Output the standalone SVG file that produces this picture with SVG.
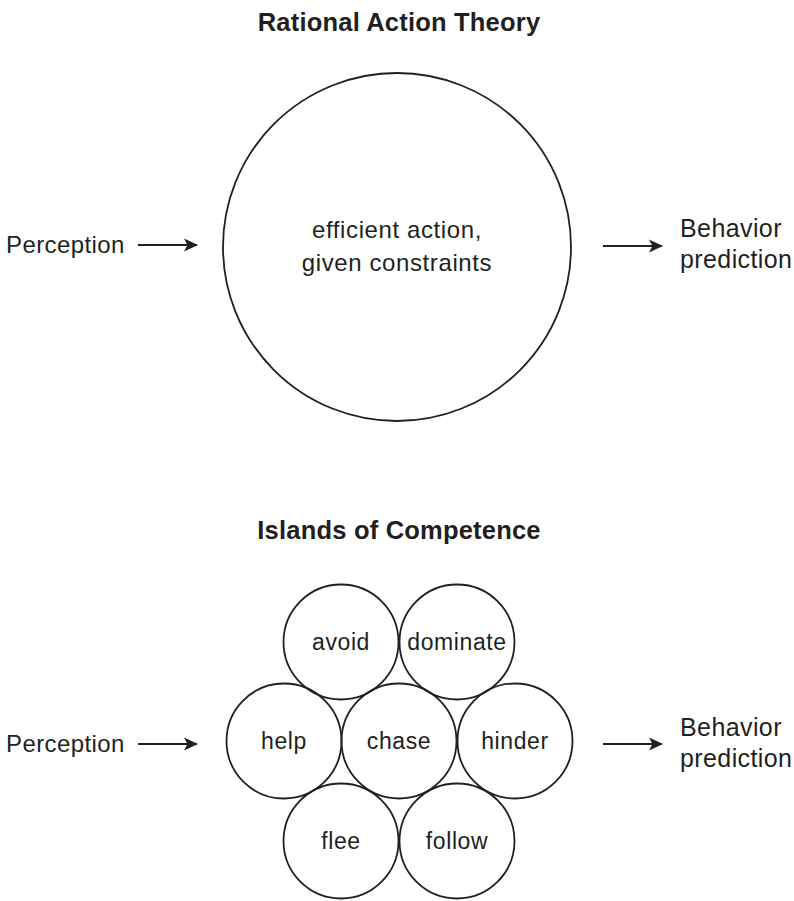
<svg xmlns="http://www.w3.org/2000/svg" width="794" height="901" viewBox="0 0 794 901">
  <style>
    .bg { fill: #ffffff; }
    .ring { fill: none; stroke: #231f20; stroke-width: 1.8; }
    .txt { font-family: "Liberation Sans", Arial, sans-serif; font-size: 24px; fill: #231f20; letter-spacing: 0.4px; }
    .side { font-size: 25px; letter-spacing: 0.4px; }
    .core { font-size: 24px; letter-spacing: 0.6px; }
    .lbl { font-size: 23px; letter-spacing: 0.6px; }
    .mid { text-anchor: middle; }
    .title { font-family: "Liberation Sans", Arial, sans-serif; font-size: 25.5px; font-weight: bold; fill: #231f20; text-anchor: middle; letter-spacing: 0.2px; }
    .link { stroke: #231f20; stroke-width: 1.8; fill: none; marker-end: url(#head); }
  </style>
  <defs>
    <marker id="head" viewBox="0 0 14 14" refX="13" refY="7" markerWidth="14" markerHeight="14" markerUnits="userSpaceOnUse" orient="auto">
      <path d="M0,0.5 L14,7 L0,13.5 L3.5,7 Z" fill="#231f20"/>
    </marker>
  </defs>
  <rect class="bg" x="0" y="0" width="794" height="901"/>

  <!-- Upper panel: single rational-action model -->
  <text class="title" x="399" y="31">Rational Action Theory</text>

  <g id="perception-top">
    <text class="txt" x="6" y="253">Perception</text>
  </g>
  <g id="rational-action">
    <circle class="ring" cx="397" cy="247" r="174"/>
    <text class="txt core mid" x="397" y="238">efficient action,</text>
    <text class="txt core mid" x="397" y="271">given constraints</text>
  </g>
  <g id="behavior-top">
    <text class="txt side" x="680" y="237">Behavior</text>
    <text class="txt side" x="680" y="268">prediction</text>
  </g>

  <!-- Lower panel: cluster of specialised competences -->
  <text class="title" x="399" y="539">Islands of Competence</text>

  <g id="perception-bottom">
    <text class="txt" x="6" y="752">Perception</text>
  </g>
  <g id="avoid">
    <circle class="ring" cx="341" cy="642" r="57.5"/>
    <text class="txt lbl mid" x="341" y="650">avoid</text>
  </g>
  <g id="dominate">
    <circle class="ring" cx="457" cy="642" r="57.5"/>
    <text class="txt lbl mid" x="457" y="650">dominate</text>
  </g>
  <g id="help">
    <circle class="ring" cx="284" cy="741" r="57.5"/>
    <text class="txt lbl mid" x="284" y="749">help</text>
  </g>
  <g id="chase">
    <circle class="ring" cx="399" cy="741" r="57.5"/>
    <text class="txt lbl mid" x="399" y="749">chase</text>
  </g>
  <g id="hinder">
    <circle class="ring" cx="515" cy="741" r="57.5"/>
    <text class="txt lbl mid" x="515" y="749">hinder</text>
  </g>
  <g id="flee">
    <circle class="ring" cx="341" cy="841" r="57.5"/>
    <text class="txt lbl mid" x="341" y="849">flee</text>
  </g>
  <g id="follow">
    <circle class="ring" cx="457" cy="841" r="57.5"/>
    <text class="txt lbl mid" x="457" y="849">follow</text>
  </g>
  <g id="behavior-bottom">
    <text class="txt side" x="680" y="736">Behavior</text>
    <text class="txt side" x="680" y="767">prediction</text>
  </g>

  <!-- Connectors -->
  <g id="connectors">
    <line class="link" x1="138" y1="245" x2="197" y2="245"/>
    <line class="link" x1="603" y1="246" x2="662" y2="246"/>
    <line class="link" x1="138" y1="744" x2="197" y2="744"/>
    <line class="link" x1="603" y1="744" x2="662" y2="744"/>
  </g>
</svg>
